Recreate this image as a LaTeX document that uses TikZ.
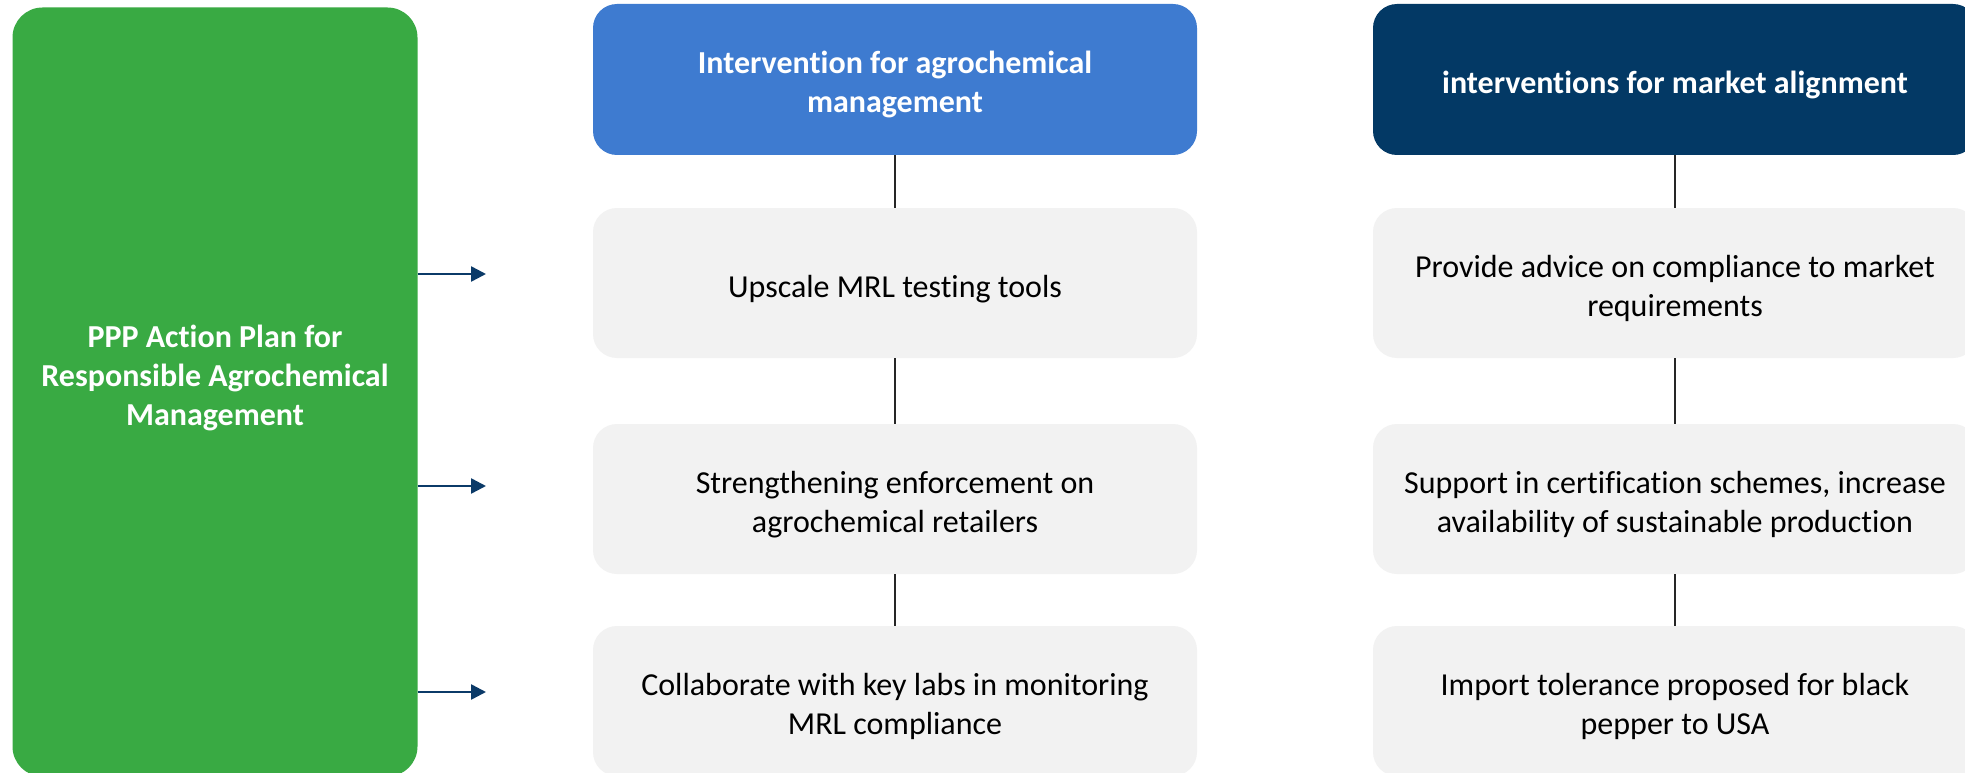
\documentclass[tikz,border=0pt]{standalone}
\usepackage{fontspec}
\setmainfont{Carlito}[Ligatures=NoCommon]
\usetikzlibrary{arrows.meta}
\definecolor{pgreen}{HTML}{39AA43}
\definecolor{pblue}{HTML}{3E7BD0}
\definecolor{pnavy}{HTML}{033965}
\definecolor{pgray}{HTML}{F2F2F2}
\definecolor{pline}{HTML}{262626}
\definecolor{parrow}{HTML}{0B3A68}
\newcommand\tstr{\rule{0pt}{38pt}}
\newcommand\bstr{\rule[-10pt]{0pt}{0pt}}
\newcommand\gtstr{\rule{0pt}{26pt}}
\newcommand\gbstr{\rule[-36.5pt]{0pt}{0pt}}
\tikzset{
  base/.style={rounded corners=24pt, inner sep=0pt, align=center,
    font=\fontsize{32}{39}\selectfont, minimum width=604pt},
  headbox/.style={base, text=white, font=\fontsize{32}{39}\selectfont\bfseries, minimum height=151pt},
  itembox/.style={base, fill=pgray, text=black, minimum height=150pt},
  greenbox/.style={rounded corners=30pt, fill=pgreen, text=white, align=center,
    font=\fontsize{32}{39}\selectfont\bfseries, minimum width=405pt, minimum height=769pt, inner sep=0pt},
  link/.style={draw=pline, line width=2.5pt},
  arr/.style={draw=parrow, line width=2.5pt, -{Triangle[length=15pt,width=15pt]}}
}
\begin{document}
\begin{tikzpicture}[x=1pt,y=-1pt]
\useasboundingbox (0,0) rectangle (1965,773);
\fill[white] (0,0) rectangle (1965,773);
% left green box
\node[greenbox] (green) at (215,392) {\gtstr PPP Action Plan for\\Responsible Agrochemical\\Management\gbstr};
% middle column
\node[headbox, fill=pblue] (h1) at (895,79.5) {\tstr Intervention for agrochemical\\management\bstr};
\node[itembox] (m1) at (895,283) {\tstr Upscale MRL testing tools\bstr};
\node[itembox] (m2) at (895,499) {\tstr Strengthening enforcement on\\agrochemical retailers\bstr};
\node[itembox] (m3) at (895,701) {\tstr Collaborate with key labs in monitoring\\MRL compliance\bstr};
% right column
\node[headbox, fill=pnavy] (h2) at (1675,79.5) {\tstr interventions for market alignment\bstr};
\node[itembox] (r1) at (1675,283) {\tstr Provide advice on compliance to market\\requirements\bstr};
\node[itembox] (r2) at (1675,499) {\tstr Support in certification schemes, increase\\availability of sustainable production\bstr};
\node[itembox] (r3) at (1675,701) {\tstr Import tolerance proposed for black\\pepper to USA\bstr};
% vertical links
\draw[link] (h1.south) -- (m1.north);
\draw[link] (m1.south) -- (m2.north);
\draw[link] (m2.south) -- (m3.north);
\draw[link] (h2.south) -- (r1.north);
\draw[link] (r1.south) -- (r2.north);
\draw[link] (r2.south) -- (r3.north);
% arrows from green box
\coordinate (e1) at (486,274);
\coordinate (e2) at (486,486);
\coordinate (e3) at (486,692);
\draw[arr] (green.east |- e1) -- (e1);
\draw[arr] (green.east |- e2) -- (e2);
\draw[arr] (green.east |- e3) -- (e3);
\end{tikzpicture}
\end{document}
